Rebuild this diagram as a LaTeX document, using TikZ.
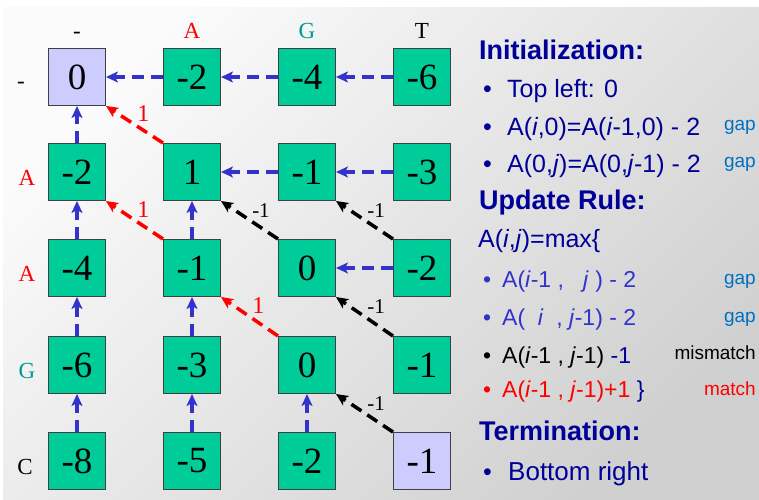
\documentclass[tikz,border=0pt]{standalone}
\usepackage{fontspec}
\setmainfont{Liberation Serif}
\newfontfamily\arial{Liberation Sans}
\usetikzlibrary{arrows.meta}
\definecolor{boxgreen}{RGB}{0,204,153}
\definecolor{boxlav}{RGB}{204,204,255}
\definecolor{arrblue}{RGB}{51,51,204}
\definecolor{navy}{RGB}{0,0,153}
\definecolor{gapblue}{RGB}{0,112,192}
\definecolor{tealg}{RGB}{0,153,153}
\definecolor{bordergray}{RGB}{64,64,64}
\definecolor{bglight}{RGB}{251,251,251}
\definecolor{bgdark}{RGB}{208,208,208}
\begin{document}
\begin{tikzpicture}[x=1pt,y=-1pt,
  cell/.style={draw=bordergray, line width=1pt, fill=boxgreen, minimum size=57pt, inner sep=0pt, font=\fontsize{37}{40}\selectfont},
  startcell/.style={cell, fill=boxlav},
  seqlab/.style={font=\fontsize{23}{25}\selectfont, anchor=base, inner sep=0pt},
  tipstyle/.style={-{Stealth[length=12pt,width=11pt,inset=3pt]}},
  gaparr/.style={draw=arrblue, line width=3.5pt, dash pattern=on 12pt off 7pt, tipstyle},
  matcharr/.style={draw=red, line width=3.5pt, dash pattern=on 12pt off 7pt, tipstyle},
  misarr/.style={draw=black, line width=3.5pt, dash pattern=on 12pt off 7pt, tipstyle},
  matchlab/.style={anchor=south west, inner sep=1pt, text=red, font=\fontsize{24}{26}\selectfont},
  mislab/.style={anchor=south west, inner sep=1pt, text=black, font=\fontsize{21}{23}\selectfont},
  txt/.style={anchor=base west, inner sep=0pt},
  head/.style={txt, text=navy, font=\arial\bfseries\fontsize{27}{30}\selectfont},
  bigtxt/.style={txt, text=navy, font=\arial\fontsize{25}{28}\selectfont},
  subtxt/.style={txt, font=\arial\fontsize{23}{26}\selectfont},
  note/.style={anchor=base east, inner sep=0pt, font=\arial\fontsize{19}{21}\selectfont}
]
\useasboundingbox (0,0) rectangle (759,499);
\fill[white] (0,0) rectangle (759,499);
\shade[top color=bglight, bottom color=bgdark, shading angle=45] (3,7) rectangle (759,499);

% column labels
\node[seqlab] (h0) at (77,38) {-};
\node[seqlab, text=red] (h1) at (192,38) {A};
\node[seqlab, text=tealg] (h2) at (307,38) {G};
\node[seqlab] (h3) at (422,38) {T};
% row labels
\node[seqlab] (r0) at (21,88) {-};
\node[seqlab, text=red] (r1) at (27,185) {A};
\node[seqlab, text=red] (r2) at (27,281) {A};
\node[seqlab, text=tealg] (r3) at (27,378) {G};
\node[seqlab] (r4) at (25,474) {C};

% cells
\node[startcell] (c00) at (77,77) {0};
\node[cell] (c01) at (192,77) {-2};
\node[cell] (c02) at (307,77) {-4};
\node[cell] (c03) at (422,77) {-6};
\node[cell] (c10) at (77,172) {-2};
\node[cell] (c11) at (192,172) {1};
\node[cell] (c12) at (307,172) {-1};
\node[cell] (c13) at (422,172) {-3};
\node[cell] (c20) at (77,268) {-4};
\node[cell] (c21) at (192,268) {-1};
\node[cell] (c22) at (307,268) {0};
\node[cell] (c23) at (422,268) {-2};
\node[cell] (c30) at (77,365) {-6};
\node[cell] (c31) at (192,365) {-3};
\node[cell] (c32) at (307,365) {0};
\node[cell] (c33) at (422,365) {-1};
\node[cell] (c40) at (77,461) {-8};
\node[cell] (c41) at (192,461) {-5};
\node[cell] (c42) at (307,461) {-2};
\node[startcell] (c43) at (422,461) {-1};

% horizontal gap arrows
\draw[gaparr] (c01.west) -- (c00.east);
\draw[gaparr] (c02.west) -- (c01.east);
\draw[gaparr] (c03.west) -- (c02.east);
\draw[gaparr] (c12.west) -- (c11.east);
\draw[gaparr] (c13.west) -- (c12.east);
\draw[gaparr] (c23.west) -- (c22.east);
% vertical gap arrows
\draw[gaparr] (c10.north) -- (c00.south);
\draw[gaparr] (c20.north) -- (c10.south);
\draw[gaparr] (c30.north) -- (c20.south);
\draw[gaparr] (c40.north) -- (c30.south);
\draw[gaparr] (c21.north) -- (c11.south);
\draw[gaparr] (c31.north) -- (c21.south);
\draw[gaparr] (c41.north) -- (c31.south);
\draw[gaparr] (c42.north) -- (c32.south);
% match arrows
\draw[matcharr] (c11.north west) -- node[matchlab] {1} (c00.south east);
\draw[matcharr] (c21.north west) -- node[matchlab] {1} (c10.south east);
\draw[matcharr] (c32.north west) -- node[matchlab] {1} (c21.south east);
% mismatch arrows
\draw[misarr] (c22.north west) -- node[mislab] {-1} (c11.south east);
\draw[misarr] (c23.north west) -- node[mislab] {-1} (c12.south east);
\draw[misarr] (c33.north west) -- node[mislab] {-1} (c22.south east);
\draw[misarr] (c43.north west) -- node[mislab] {-1} (c32.south east);

% right-hand text
\node[head] (t1) at (479,59) {Initialization:};
\node[bigtxt] (b1) at (483,97) {•};
\node[bigtxt] (t2) at (507,97) {Top left: 0};
\node[bigtxt] (b2) at (483,135) {•};
\node[bigtxt] (t3) at (507,135) {A(\textit{i},0)=A(\textit{i}-1,0) - 2};
\node[note, text=gapblue] (g1) at (756,130) {gap};
\node[bigtxt] (b3) at (483,172) {•};
\node[bigtxt] (t4) at (507,172) {A(0,\textit{j})=A(0,\textit{j}-1) - 2};
\node[note, text=gapblue] (g2) at (756,167) {gap};
\node[head] (t5) at (479,209) {Update Rule:};
\node[bigtxt] (t6) at (478,247) {A(\textit{i},\textit{j})=max\{};
\node[subtxt, text=arrblue] (b4) at (483,287) {•};
\node[subtxt, text=arrblue] (t7) at (502,287) {A(\textit{i}-1 ,\ \ \ \textit{j} ) - 2};
\node[note, text=gapblue] (g3) at (756,284) {gap};
\node[subtxt, text=arrblue] (b5) at (483,325) {•};
\node[subtxt, text=arrblue] (t8) at (502,325) {A(\ \ \textit{i}\ \ , \textit{j}-1) - 2};
\node[note, text=gapblue] (g4) at (756,322) {gap};
\node[subtxt, text=black] (b6) at (483,363) {•};
\node[subtxt, text=black] (t9) at (502,363) {A(\textit{i}-1 , \textit{j}-1) \textcolor{navy}{-1}};
\node[note, text=black] (g5) at (756,359) {mismatch};
\node[subtxt, text=red] (b7) at (483,397) {•};
\node[subtxt, text=red] (t10) at (502,397) {A(\textit{i}-1 , \textit{j}-1)+1 \textcolor{navy}{\}}};
\node[note, text=red] (g6) at (756,395) {match};
\node[head] (t11) at (479,440) {Termination:};
\node[bigtxt] (b8) at (483,480) {•};
\node[bigtxt, font=\arial\fontsize{26}{28}\selectfont] (t12) at (508,480) {Bottom right};
\end{tikzpicture}
\end{document}
